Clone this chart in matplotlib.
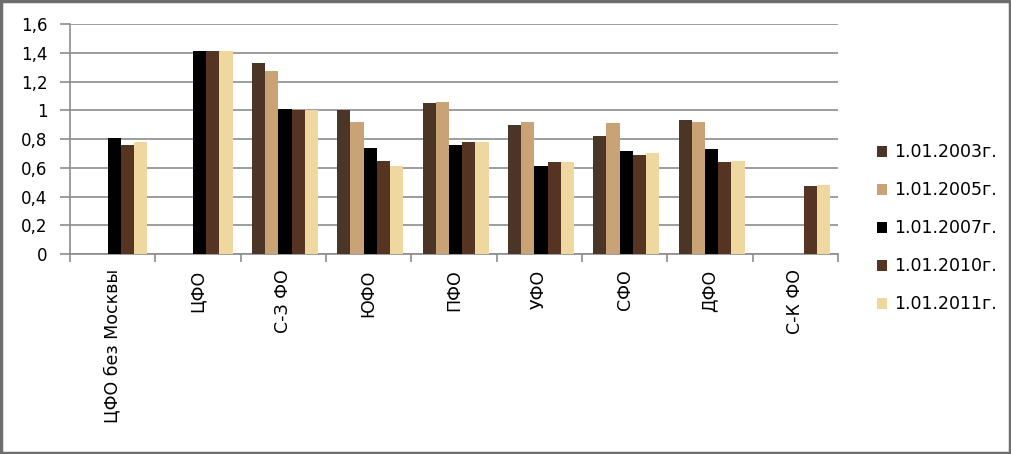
import numpy as np
import matplotlib
matplotlib.use('Agg')
import matplotlib.pyplot as plt

#categories on x axis
categories=['ЦФО без Москвы','ЦФО','С-З ФО','ЮФО','ПФО','УФО','СФО','ДФО','С-К ФО']

#series names
series_names=['1.01.2003г.','1.01.2005г.','1.01.2007г.','1.01.2010г.','1.01.2011г.']

nan=np.nan

#values by series
v_2003=[nan,nan,1.33,1.00,1.05,0.90,0.82,0.93,nan]
v_2005=[nan,nan,1.27,0.92,1.06,0.92,0.91,0.92,nan]
v_2007=[0.81,1.41,1.01,0.74,0.76,0.61,0.72,0.73,nan]
v_2010=[0.76,1.41,1.00,0.65,0.78,0.64,0.69,0.64,0.47]
v_2011=[0.78,1.41,1.00,0.61,0.78,0.64,0.70,0.65,0.48]

y_ticks=[0,0.2,0.4,0.6,0.8,1,1.2,1.4,1.6]
y_tick_labels=['0','0,2','0,4','0,6','0,8','1','1,2','1,4','1,6']

#bar colors imitating the textures
colors=['#4b3526','#c9a275','#000000','#553521','#eed8a0']

plt.rcParams['font.family']=['DejaVu Sans']

figure=plt.figure(figsize=(10.12,4.54),dpi=100)
ax=figure.add_axes([0.069,0.4405,0.759,0.5065])

all_values=[v_2003,v_2005,v_2007,v_2010,v_2011]
n_series=len(all_values)
bar_width=0.155
x=np.arange(len(categories))

for i,values in enumerate(all_values):
    offset=(i-(n_series-1)/2)*bar_width
    ax.bar(x+offset+0.02,values,width=bar_width,color=colors[i],
           label=series_names[i],zorder=3,linewidth=0)

#axes and grid
ax.set_xlim(-0.5,len(categories)-0.5)
ax.set_ylim(0,1.6)
ax.set_yticks(y_ticks)
ax.set_yticklabels(y_tick_labels,fontsize=12)
ax.yaxis.grid(True,color='#8c8c8c',linewidth=1.2,zorder=0)
ax.tick_params(axis='y',length=7,color='#8c8c8c',width=1.2,pad=9)

#category ticks between groups
ax.set_xticks(np.arange(len(categories)+1)-0.5)
ax.set_xticklabels([])
ax.set_xticks(x,minor=True)
ax.set_xticklabels(categories,minor=True,rotation=90,fontsize=12.5,va='top')
ax.tick_params(axis='x',which='major',length=6,color='#8c8c8c',width=1.2)
ax.tick_params(axis='x',which='minor',length=0,pad=11)

for side in ['top','right']:
    ax.spines[side].set_visible(False)
for side in ['left','bottom']:
    ax.spines[side].set_color('#8c8c8c')
    ax.spines[side].set_linewidth(1.2)

#legend
legend=figure.legend(loc='center left',bbox_to_anchor=(0.851,0.497),frameon=False,
                     fontsize=12.5,handlelength=0.6,handleheight=0.6,
                     handletextpad=0.4,labelspacing=1.15)

#outer frame
figure.patches.append(plt.Rectangle((0.001,0.002),0.997,0.995,transform=figure.transFigure,
                                    fill=False,edgecolor='#6e6e6e',linewidth=2.5))

figure.savefig('out.png',dpi=100)
plt.close()
